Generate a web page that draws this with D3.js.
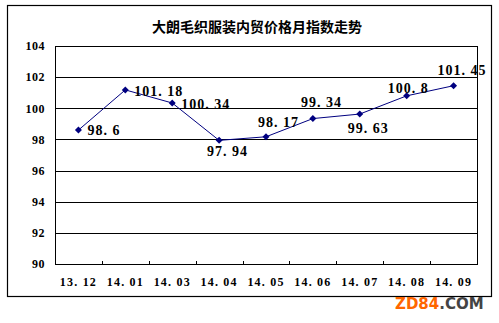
<!DOCTYPE html>
<html>
<head>
<meta charset="utf-8">
<script src="https://cdn.jsdelivr.net/npm/d3@7"></script>
<style>
html,body{margin:0;padding:0;background:#fff;}
svg{display:block;}
</style>
</head>
<body>
<svg id="chart" width="499" height="323"></svg>
<script>
const title = "大朗毛织服装内贸价格月指数走势";
const categories = ["13.12","14.01","14.03","14.04","14.05","14.06","14.07","14.08","14.09"];
const values = [98.6, 101.18, 100.34, 97.94, 98.17, 99.34, 99.63, 100.8, 101.45];
const yTicks = [90, 92, 94, 96, 98, 100, 102, 104];
// label offsets (dx to text start, dy to baseline) relative to each point
const labelOffsets = [[9,5],[9,6],[9,6],[-12,16],[-8,-10],[-12,-12],[-12,19],[-19,-3],[-16,-11]];

const svg = d3.select("#chart");
const W = 499, H = 323;
const plot = {left: 55, right: 477, top: 46, bottom: 264};

svg.append("rect").attr("width", W).attr("height", H).attr("fill", "#fff");
// outer frame
svg.append("rect").attr("x", 7.5).attr("y", 5.5).attr("width", 484).attr("height", 291)
  .attr("fill", "none").attr("stroke", "#000").attr("stroke-width", 1.2);

const x = d3.scaleBand().domain(categories).range([plot.left, plot.right]).padding(0);
const y = d3.scaleLinear().domain([90, 104]).range([plot.bottom, plot.top]);

// title
svg.append("text").attr("x", 257).attr("y", 32).attr("text-anchor", "middle")
  .attr("font-family", "'Noto Sans CJK SC', sans-serif").attr("font-weight", "bold")
  .attr("font-size", 14).attr("fill", "#000").text(title);

// gridlines
svg.append("g").selectAll("line").data(yTicks).join("line")
  .attr("x1", plot.left).attr("x2", plot.right)
  .attr("y1", d => Math.round(y(d)) + 0.5).attr("y2", d => Math.round(y(d)) + 0.5)
  .attr("stroke", "#000").attr("stroke-width", 1);

// plot border
svg.append("rect").attr("x", plot.left + 0.5).attr("y", plot.top + 0.5)
  .attr("width", plot.right - plot.left).attr("height", plot.bottom - plot.top)
  .attr("fill", "none").attr("stroke", "#000");

// y axis labels
const yAxis = d3.axisLeft(y).tickValues(yTicks).tickSize(0).tickPadding(10);
const ya = svg.append("g").attr("transform", `translate(${plot.left},0)`).call(yAxis);
ya.select(".domain").remove();
ya.selectAll("text").attr("font-family", "'Liberation Serif', serif").attr("font-weight", "bold")
  .attr("font-size", 12).attr("fill", "#000").attr("letter-spacing", 0.5);

// x axis with inner ticks at category boundaries
const bounds = categories.slice(1).map(c => x(c));
svg.append("g").selectAll("line").data(bounds).join("line")
  .attr("x1", d => Math.round(d) + 0.5).attr("x2", d => Math.round(d) + 0.5)
  .attr("y1", plot.bottom).attr("y2", plot.bottom - 3)
  .attr("stroke", "#000");
const xAxis = d3.axisBottom(x).tickSize(0).tickPadding(13);
const xa = svg.append("g").attr("transform", `translate(0,${plot.bottom})`).call(xAxis);
xa.select(".domain").remove();
xa.selectAll("text").attr("font-family", "'Liberation Serif', serif").attr("font-weight", "bold")
  .attr("font-size", 12).attr("fill", "#000").attr("letter-spacing", 1.2)
  .text(d => d.replace(".", ". "));

const cx = d => x(d) + x.bandwidth() / 2;
const pts = categories.map((c, i) => ({c, v: values[i], o: labelOffsets[i]}));

// line
svg.append("path").datum(pts)
  .attr("d", d3.line().x(d => cx(d.c)).y(d => y(d.v)))
  .attr("fill", "none").attr("stroke", "#000080").attr("stroke-width", 1);

// markers
svg.append("g").selectAll("path").data(pts).join("path")
  .attr("transform", d => `translate(${cx(d.c)},${y(d.v)})`)
  .attr("d", "M0,-3.5L3.5,0L0,3.5L-3.5,0Z")
  .attr("fill", "#000080");

// data labels
svg.append("g").selectAll("text").data(pts).join("text")
  .attr("x", d => cx(d.c) + d.o[0]).attr("y", d => y(d.v) + d.o[1])
  .attr("font-family", "'Liberation Serif', serif").attr("font-weight", "bold")
  .attr("font-size", 14).attr("fill", "#000").attr("letter-spacing", 1)
  .text(d => String(d.v).replace(".", ". "));

// watermark
const wm = svg.append("text").attr("x", 395).attr("y", 309)
  .attr("font-family", "'DejaVu Sans', sans-serif").attr("font-weight", "bold").attr("font-size", 15);
wm.append("tspan").attr("fill", "#ff6600").text("ZD84");
wm.append("tspan").attr("fill", "#444").text(".COM");
</script>
</body>
</html>
